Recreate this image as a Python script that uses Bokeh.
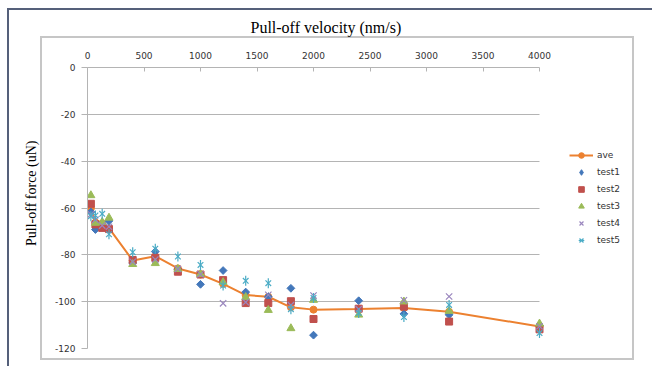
import math
from bokeh.plotting import figure
from bokeh.models import Range1d, FixedTicker, Legend, LegendItem, Title
from bokeh.embed import file_html
from bokeh.resources import INLINE

# ---- data ----
velocity = [30, 70, 130, 190, 400, 600, 800, 1000, 1200, 1400, 1600, 1800, 2000, 2400, 2800, 3200, 4000]
ave   = [-60.1, -66.2, -66.6, -68.6, -82.4, -80.6, -85.8, -88.4, -92.4, -97.2, -97.9, -102.4, -103.4, -103.1, -102.7, -104.3, -110.6]
test1 = [-61.7, -69.2, -67.5, -65.5, -83.5, -78.6, -86.2, -92.6, -86.7, -95.9, -97.9, -94.3, -114.3, -99.6, -105.2, -105.6, -110.2]
test2 = [-58.2, -67.0, -68.5, -69.0, -82.2, -81.3, -87.2, -88.4, -90.8, -100.6, -100.6, -99.8, -107.4, -103.0, -102.1, -108.5, -111.8]
test3 = [-54.6, -66.4, -66.0, -64.2, -84.0, -83.6, -86.1, -88.2, -91.7, -98.1, -103.6, -111.4, -99.3, -105.6, -100.0, -104.0, -109.4]
test4 = [-62.7, -65.0, -67.5, -68.0, -83.0, -82.0, -86.0, -88.3, -100.7, -100.2, -97.1, -101.5, -97.4, -103.2, -99.4, -97.8, -110.5]
test5 = [-63.5, -63.2, -62.5, -71.2, -78.9, -77.4, -80.7, -84.3, -93.1, -91.1, -92.1, -103.2, -98.4, -104.8, -106.6, -101.4, -113.4]

x_ticks = [0, 500, 1000, 1500, 2000, 2500, 3000, 3500, 4000]
y_ticks = [0, -20, -40, -60, -80, -100, -120]

title_text = "Pull-off velocity (nm/s)"
y_label = "Pull-off force (uN)"

c_ave = "#EC8130"
c1 = "#4377BA"
c2 = "#C0504D"
c3 = "#9BBB59"
c4 = "#9A86BE"
c5 = "#4BACC6"

# layout (pixels)
W, H = 652, 366
F_LEFT, F_TOP, F_BOTTOM = 87, 67, 348
X0_PX, X1_PX, F_RIGHT = 87, 539, 630
x_max = x_ticks[-1]
x_end = x_max + (F_RIGHT - X1_PX) * x_max / (X1_PX - X0_PX)

p = figure(width=W, height=H, output_backend="svg", toolbar_location=None,
           x_range=Range1d(0, x_end), y_range=Range1d(-120, 0),
           x_axis_location="above",
           min_border_left=F_LEFT, min_border_right=W - F_RIGHT, min_border_top=F_TOP,
           min_border_bottom=H - F_BOTTOM)
p.outline_line_color = None
p.background_fill_color = "white"
p.border_fill_color = None

# decorative chart borders drawn as CSS backgrounds behind the transparent canvas border
dark = "#55607a"
lg = "#c6c6c6"
p.styles = {
    "background-color": "white",
    "background-image": ", ".join([f"linear-gradient({c},{c})" for c in [dark, dark, lg, lg, lg, lg]]),
    "background-position": "7px 8px, 7px 8px, 40px 36px, 40px 358px, 40px 36px, 632px 36px",
    "background-size": "100% 2px, 2px 100%, 594px 2px, 594px 2px, 2px 324px, 2px 324px",
    "background-repeat": "no-repeat",
}

grey = "#b4b4b4"
tick_font = "DejaVu Sans"

# title
p.title.text = title_text
p.title.align = "left"
p.title.offset = 163
p.title.text_font = "Liberation Serif"
p.title.text_font_size = "16px"
p.title.text_font_style = "normal"
p.title.text_color = "black"
p.title.standoff = 26

# x axis (top)
xa = p.xaxis[0]
xa.bounds = (0, x_max)
xa.ticker = FixedTicker(ticks=x_ticks)
xa.major_label_overrides = {t: str(t) for t in x_ticks}
xa.minor_tick_line_color = None
xa.major_tick_in = 4
xa.major_tick_out = 0
xa.major_tick_line_color = grey
xa.axis_line_color = grey
xa.major_label_text_font = tick_font
xa.major_label_text_font_size = "9px"
xa.major_label_text_color = "#333333"
xa.major_label_standoff = 9

# y axis
ya = p.yaxis[0]
ya.ticker = FixedTicker(ticks=y_ticks)
ya.major_label_overrides = {t: str(t) for t in y_ticks}
ya.minor_tick_line_color = None
ya.major_tick_in = 0
ya.major_tick_out = 6
ya.major_tick_line_color = grey
ya.axis_line_color = grey
ya.major_label_text_font = tick_font
ya.major_label_text_font_size = "9px"
ya.major_label_text_color = "#333333"
ya.major_label_standoff = 6

# y-axis title as a side title, so its vertical position matches the reference
ytitle = Title(text=y_label, align="right", offset=140 - F_TOP,
               text_font="Liberation Serif", text_font_size="14px",
               text_font_style="normal", text_color="black", standoff=28)
p.add_layout(ytitle, "left")

p.xgrid.visible = False
p.ygrid.ticker = FixedTicker(ticks=y_ticks)
p.ygrid.cross_bounds = (0, x_max)
p.ygrid.grid_line_color = grey
p.ygrid.grid_line_width = 1

# series
r_line = p.line(velocity, ave, line_color=c_ave, line_width=2)
r_circ = p.scatter(velocity, ave, marker="circle", size=7, fill_color=c_ave, line_color=c_ave)
r1 = p.scatter(velocity, test1, marker="square", angle=math.pi / 4, size=5.5,
               fill_color=c1, line_color=c1)
# hidden twin used only to draw a diamond key in the legend
r1_key = p.scatter(velocity, test1, marker="diamond", size=9, fill_color=c1,
                   line_color=c1, visible=False)
r2 = p.scatter(velocity, test2, marker="square", size=7, fill_color=c2, line_color=c2)
r3 = p.scatter(velocity, test3, marker="triangle", size=8, fill_color=c3, line_color=c3)
r4 = p.scatter(velocity, test4, marker="x", size=9, line_color=c4, line_width=1.2)
r5a = p.scatter(velocity, test5, marker="x", size=8, line_color=c5, line_width=1.2)
r5b = p.scatter(velocity, test5, marker="dash", angle=math.pi / 2, size=10, line_color=c5, line_width=1.2)

legend = Legend(items=[
    LegendItem(label="ave", renderers=[r_line, r_circ]),
    LegendItem(label="test1", renderers=[r1_key]),
    LegendItem(label="test2", renderers=[r2]),
    LegendItem(label="test3", renderers=[r3]),
    LegendItem(label="test4", renderers=[r4]),
    LegendItem(label="test5", renderers=[r5a, r5b]),
], location=(569 - F_LEFT, F_BOTTOM - 247), padding=0, margin=0, border_line_color=None,
   background_fill_alpha=0, inactive_fill_alpha=0,
   glyph_width=24, glyph_height=14, label_height=14,
   spacing=3, label_standoff=4, label_text_font=tick_font,
   label_text_font_size="9px", label_text_color="#333333")
p.add_layout(legend)

open("out.html", "w").write(file_html(p, INLINE))
